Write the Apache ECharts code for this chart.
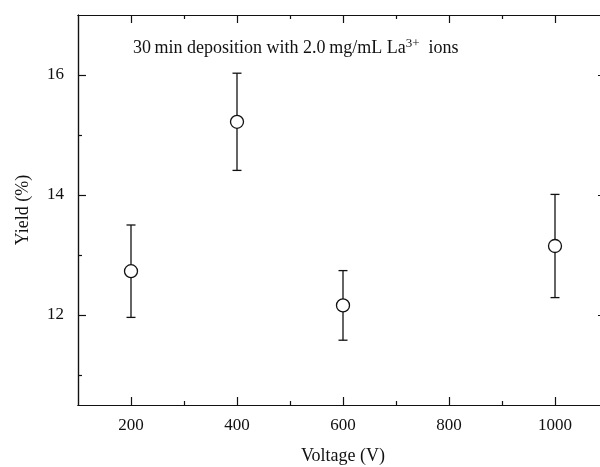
<!DOCTYPE html>
<html>
<head>
<meta charset="utf-8">
<script src="https://cdn.jsdelivr.net/npm/echarts@6/dist/echarts.min.js"></script>
<style>
  html, body { margin: 0; padding: 0; background: #fff; }
  #chart { width: 600px; height: 467px; }
</style>
</head>
<body>
<div id="chart"></div>
<script>
// Deposition voltage (V) and measured yield (%) with error bar half-widths
const voltages = [200, 400, 600, 1000];
const yieldMean = [12.73, 15.22, 12.16, 13.15];
const yieldErr = [0.77, 0.81, 0.58, 0.86];

const xMajorTicks = [200, 400, 600, 800, 1000];
const xMinorTicks = [300, 500, 700, 900];
const yMajorTicks = [12, 14, 16];
const yMinorTicks = [11, 13, 15];

const FONT = '"Liberation Serif", "DejaVu Serif", serif';
const INK = '#111';

const chart = echarts.init(document.getElementById('chart'), null, { renderer: 'canvas' });

const lineStyle = { color: INK, width: 1.2 };

function xAxisDef(opts) {
  return Object.assign({
    type: 'value', min: 100, max: 1100, gridIndex: 0,
    axisLine: { show: true, onZero: false, lineStyle },
    splitLine: { show: false },
    axisLabel: { show: false },
    axisTick: { show: true, inside: true, length: 8, lineStyle }
  }, opts);
}
function yAxisDef(opts) {
  return Object.assign({
    type: 'value', min: 10.5, max: 17, gridIndex: 0,
    axisLine: { show: true, onZero: false, lineStyle },
    splitLine: { show: false },
    axisLabel: { show: false },
    axisTick: { show: true, inside: true, length: 8, lineStyle }
  }, opts);
}

const errorData = voltages.map((v, i) => [v, yieldMean[i] - yieldErr[i], yieldMean[i] + yieldErr[i]]);
const pointData = voltages.map((v, i) => [v, yieldMean[i]]);

const option = {
  backgroundColor: '#fff',
  animation: false,
  // plot frame runs slightly past the right edge of the canvas
  grid: {
    left: 78, width: 530, top: 15, height: 390,
    containLabel: false, outerBoundsMode: 'none'
  },
  graphic: [{
    type: 'text',
    left: 133,
    top: 37,
    style: {
      text: '30\u2009min deposition with 2.0\u2009mg/mL La{sup|3+}  ions',
      font: '18px ' + FONT,
      fill: INK,
      rich: {
        sup: { fontSize: 13, fontFamily: FONT, verticalAlign: 'top', padding: [0, 0, 10, 0] }
      }
    }
  }],
  xAxis: [
    xAxisDef({
      position: 'bottom',
      name: 'Voltage (V)', nameLocation: 'middle', nameGap: 42,
      nameTextStyle: { fontFamily: FONT, fontSize: 18, color: INK },
      axisTick: { show: true, inside: true, length: 8, lineStyle, customValues: xMajorTicks },
      axisLabel: {
        show: true, customValues: xMajorTicks, margin: 12,
        fontFamily: FONT, fontSize: 17, color: INK,
        formatter: v => String(v)
      }
    }),
    xAxisDef({ position: 'bottom', axisTick: { show: true, inside: true, length: 4, lineStyle, customValues: xMinorTicks } }),
    xAxisDef({ position: 'top', axisTick: { show: true, inside: true, length: 8, lineStyle, customValues: xMajorTicks } }),
    xAxisDef({ position: 'top', axisTick: { show: true, inside: true, length: 4, lineStyle, customValues: xMinorTicks } })
  ],
  yAxis: [
    yAxisDef({
      position: 'left',
      name: 'Yield (%)', nameLocation: 'middle', nameGap: 46, nameRotate: 90,
      nameTextStyle: { fontFamily: FONT, fontSize: 18, color: INK },
      axisTick: { show: true, inside: true, length: 8, lineStyle, customValues: yMajorTicks },
      axisLabel: {
        show: true, customValues: yMajorTicks, margin: 14,
        fontFamily: FONT, fontSize: 17, color: INK,
        formatter: v => String(v)
      }
    }),
    yAxisDef({ position: 'left', axisTick: { show: true, inside: true, length: 4, lineStyle, customValues: yMinorTicks } }),
    yAxisDef({ position: 'right', axisTick: { show: true, inside: true, length: 10, lineStyle, customValues: yMajorTicks } }),
    yAxisDef({ position: 'right', axisTick: { show: true, inside: true, length: 4, lineStyle, customValues: yMinorTicks } })
  ],
  series: [
    {
      type: 'custom',
      xAxisIndex: 0, yAxisIndex: 0,
      data: errorData,
      z: 2,
      renderItem: function (params, api) {
        const x = api.value(0);
        const lo = api.coord([x, api.value(1)]);
        const hi = api.coord([x, api.value(2)]);
        const cap = 4.5;
        const st = { stroke: INK, lineWidth: 1.3 };
        return {
          type: 'group',
          children: [
            { type: 'line', shape: { x1: hi[0], y1: hi[1], x2: lo[0], y2: lo[1] }, style: st },
            { type: 'line', shape: { x1: hi[0] - cap, y1: hi[1], x2: hi[0] + cap, y2: hi[1] }, style: st },
            { type: 'line', shape: { x1: lo[0] - cap, y1: lo[1], x2: lo[0] + cap, y2: lo[1] }, style: st }
          ]
        };
      }
    },
    {
      type: 'scatter',
      xAxisIndex: 0, yAxisIndex: 0,
      data: pointData,
      z: 3,
      symbol: 'circle',
      symbolSize: 13,
      itemStyle: { color: '#fff', borderColor: INK, borderWidth: 1.3, opacity: 1 }
    }
  ]
};

chart.setOption(option);
</script>
</body>
</html>
